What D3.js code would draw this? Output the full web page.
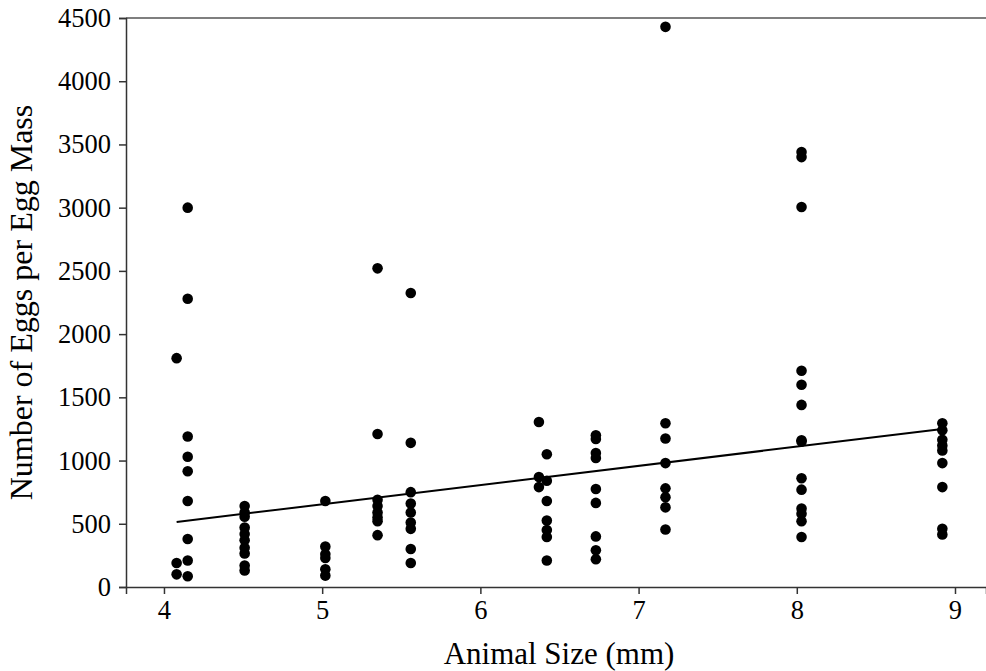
<!DOCTYPE html>
<html>
<head>
<meta charset="utf-8">
<script src="https://cdn.jsdelivr.net/npm/d3@7"></script>
<style>
  body { margin: 0; background: #fff; }
  svg { display: block; }
  text { font-family: "Liberation Serif", "Times New Roman", serif; }
</style>
</head>
<body>
<div id="chart"></div>
<script>
// animal size (mm) of each group, and egg counts observed for it
var sizes = [4.08, 4.15, 4.51, 5.02, 5.35, 5.56, 6.37, 6.42, 6.73, 7.17, 8.03, 8.92];
var eggCounts = [
  [1810, 190, 100],
  [3000, 2280, 1190, 1030, 915, 680, 380, 210, 85],
  [640, 590, 555, 470, 420, 370, 310, 265, 170, 130],
  [680, 320, 260, 230, 140, 90],
  [2520, 1210, 690, 640, 590, 550, 520, 410],
  [2325, 1140, 750, 660, 590, 510, 460, 300, 190],
  [1305, 870, 790],
  [1050, 840, 680, 525, 450, 395, 210],
  [1200, 1170, 1060, 1020, 775, 665, 400, 290, 220],
  [4430, 1295, 1175, 980, 780, 710, 630, 455],
  [3440, 3400, 3005, 1710, 1600, 1440, 1160, 1150, 860, 770, 620, 580, 520, 395],
  [1295, 1240, 1165, 1120, 1080, 980, 790, 460, 415]
];
// fitted line ends
var fitX = [4.08, 8.92];
var fitY = [514, 1250];

var xTicks = [4, 5, 6, 7, 8, 9];
var yTicks = [0, 500, 1000, 1500, 2000, 2500, 3000, 3500, 4000, 4500];

var points = [];
sizes.forEach(function(s, i) {
  eggCounts[i].forEach(function(v) { points.push({size: s, eggs: v}); });
});

var width = 986, height = 671;
var margin = {top: 18, right: 0, bottom: 84, left: 126};
var w = width - margin.left - margin.right,
    h = height - margin.top - margin.bottom;

var svg = d3.select("#chart").append("svg")
  .attr("width", width).attr("height", height);
var g = svg.append("g").attr("transform", "translate(" + margin.left + "," + margin.top + ")");

var x = d3.scaleLinear().domain([3.76, 9.196]).range([0, w]);
var y = d3.scaleLinear().domain([0, 4500]).range([h, 0]);

// top border
g.append("line").attr("x1", 0).attr("x2", w).attr("y1", 0).attr("y2", 0)
  .attr("stroke", "#000").attr("stroke-width", 1.2);

var xAxis = g.append("g")
  .attr("transform", "translate(0," + h + ")")
  .call(d3.axisBottom(x).tickValues(xTicks).tickSize(7).tickPadding(6).tickFormat(d3.format("d")));
var yAxis = g.append("g")
  .call(d3.axisLeft(y).tickValues(yTicks).tickSize(7).tickPadding(8).tickFormat(d3.format("d")));

[xAxis, yAxis].forEach(function(a) {
  a.select(".domain").attr("stroke", "#333").attr("stroke-width", 1.5);
  a.selectAll(".tick line").attr("stroke", "#333").attr("stroke-width", 1.5);
  a.selectAll(".tick text").attr("fill", "#000")
    .style("font-family", "Liberation Serif, serif").style("font-size", "26.5px");
});

g.selectAll("circle.pt")
  .data(points)
  .enter().append("circle")
  .attr("class", "pt")
  .attr("cx", function(d) { return x(d.size); })
  .attr("cy", function(d) { return y(d.eggs); })
  .attr("r", 5.3)
  .attr("fill", "#000");

var line = d3.line()
  .x(function(d) { return x(d[0]); })
  .y(function(d) { return y(d[1]); });

g.append("path")
  .datum(d3.zip(fitX, fitY))
  .attr("fill", "none")
  .attr("stroke", "#000")
  .attr("stroke-width", 2)
  .attr("d", line);

svg.append("text")
  .attr("x", 559)
  .attr("y", 664)
  .attr("text-anchor", "middle")
  .style("font-size", "31px")
  .text("Animal Size (mm)");

svg.append("text")
  .attr("transform", "translate(32," + (margin.top + h / 2) + ") rotate(-90)")
  .attr("text-anchor", "middle")
  .style("font-size", "32px")
  .text("Number of Eggs per Egg Mass");
</script>
</body>
</html>
